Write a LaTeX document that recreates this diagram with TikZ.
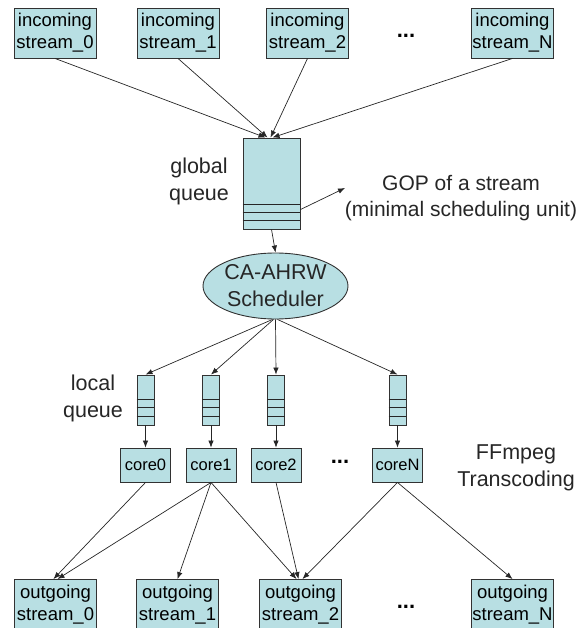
\documentclass[tikz,border=0pt]{standalone}
\usepackage{fontspec}
\setmainfont{Liberation Sans}
\usetikzlibrary{arrows.meta,shapes.geometric}
\definecolor{boxfill}{RGB}{184,223,227}
\definecolor{edge}{RGB}{50,50,50}
\tikzset{
  streambox/.style={draw=edge, fill=boxfill, line width=0.9pt, minimum width=82pt, minimum height=50pt,
    inner sep=0pt, align=center, font=\fontsize{18.5}{22}\selectfont},
  corebox/.style={draw=edge, fill=boxfill, line width=0.9pt, minimum width=50pt, minimum height=34pt,
    inner sep=0pt, font=\fontsize{16.5}{19}\selectfont},
  qbox/.style={draw=edge, fill=boxfill, line width=0.9pt, inner sep=0pt},
  bigtext/.style={align=center, font=\fontsize{21.5}{27}\selectfont, text=black!85},
  dots/.style={font=\fontsize{22}{22}\selectfont\bfseries},
  arr/.style={draw=black!85, line width=0.7pt, -{Latex[length=7pt,width=5.5pt]}},
  slot/.style={draw=black!85, line width=0.9pt},
}
\begin{document}
\begin{tikzpicture}[x=1pt,y=-1pt]
\useasboundingbox (0,0) rectangle (578,628);

% incoming streams
\node[streambox] (in0) at (55,33) {incoming\\stream\_0};
\node[streambox] (in1) at (178,33) {incoming\\stream\_1};
\node[streambox] (in2) at (307.5,33) {incoming\\stream\_2};
\node[streambox] (inN) at (512.5,33) {incoming\\stream\_N};
\node[dots] (indots) at (406,36) {...};

% global queue with GOP slots
\node[qbox, minimum width=57pt, minimum height=91pt] (gq) at (271.5,183.5) {};
\foreach \yy in {67,75,83}
  \draw[slot] ([yshift=-\yy pt]gq.north west) -- ([yshift=-\yy pt]gq.north east);
\node[bigtext] (gqlab) at (199,181) {global\\queue};
\coordinate (gopend) at (345,188);
\draw[arr] ([yshift=-72pt]gq.north east) -- (gopend);
\node[bigtext, font=\fontsize{21}{26}\selectfont] (goplab) at (461,198) {GOP of a stream\\(minimal scheduling unit)};

\draw[arr] (in0.south) -- ([xshift=-6pt]gq.north);
\draw[arr] (in1.south) -- ([xshift=-4pt]gq.north);
\draw[arr] (in2.south) -- ([xshift=-1pt]gq.north);
\draw[arr] (inN.south) -- ([xshift=1pt]gq.north);

% scheduler
\node[draw=edge, fill=boxfill, line width=0.9pt, ellipse, minimum width=145pt, minimum height=66pt,
  inner sep=0pt, bigtext] (sch) at (275.5,286) {CA-AHRW\\Scheduler};
\draw[arr] (gq.south) -- (sch.north);

% local queues
\foreach \n/\xx in {0/145.5,1/211,2/276,N/397.5}{
  \node[qbox, minimum width=17pt, minimum height=50pt] (q\n) at (\xx,400) {};
  \foreach \yy in {25,33,42}
    \draw[slot] ([yshift=-\yy pt]q\n.north west) -- ([yshift=-\yy pt]q\n.north east);
}
\node[bigtext] (lqlab) at (93,398) {local\\queue};
\draw[arr] ([xshift=-3pt]sch.south) -- (q0.north);
\draw[arr] ([xshift=-2pt]sch.south) -- (q1.north);
\draw[arr] (sch.south) -- (q2.north);
\draw[arr] ([xshift=2pt]sch.south) -- (qN.north);

% cores
\node[corebox] (c0) at (145.5,465) {core0};
\node[corebox] (c1) at (211,465) {core1};
\node[corebox] (c2) at (276,465) {core2};
\node[corebox] (cN) at (397.5,465) {coreN};
\node[dots] (cdots) at (340,462) {...};
\node[bigtext] (fflab) at (516,468) {FFmpeg\\Transcoding};
\foreach \n in {0,1,2,N}
  \draw[arr] (q\n.south) -- (c\n.north);

% outgoing streams
\node[streambox] (out0) at (55.5,604.5) {outgoing\\stream\_0};
\node[streambox] (out1) at (177.5,604.5) {outgoing\\stream\_1};
\node[streambox] (out2) at (300.5,604.5) {outgoing\\stream\_2};
\node[streambox] (outN) at (512.5,604.5) {outgoing\\stream\_N};
\node[dots] (outdots) at (406,607) {...};

\draw[arr] (c0.south) -- ([xshift=-2pt]out0.north);
\draw[arr] (c1.south) -- ([xshift=2pt]out0.north);
\draw[arr] (c1.south) -- (out1.north);
\draw[arr] (c1.south) -- ([xshift=-4pt]out2.north);
\draw[arr] (c2.south) -- ([xshift=-2pt]out2.north);
\draw[arr] (cN.south) -- ([xshift=2pt]out2.north);
\draw[arr] (cN.south) -- (outN.north);
\end{tikzpicture}
\end{document}
